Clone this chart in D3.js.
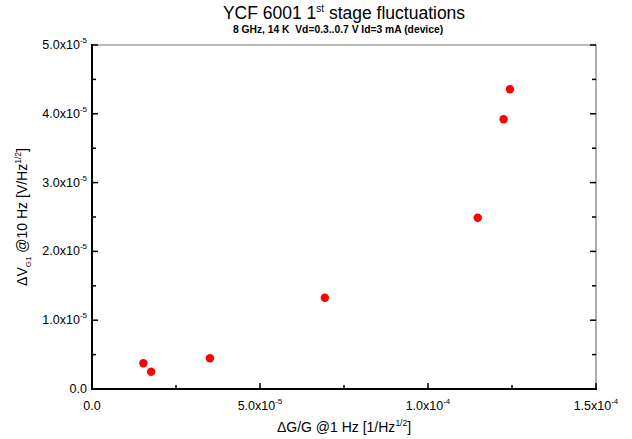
<!DOCTYPE html>
<html>
<head>
<meta charset="utf-8">
<script src="https://cdn.jsdelivr.net/npm/d3@7"></script>
<style>
  body { margin: 0; background: #fff; }
  text { font-family: "Liberation Sans", Arial, sans-serif; fill: #000; }
</style>
</head>
<body>
<div id="chart"></div>
<script>
// data
var dGG = [1.53e-5, 1.76e-5, 3.51e-5, 6.93e-5, 1.148e-4, 1.225e-4, 1.244e-4];
var dVG1 = [3.74e-6, 2.51e-6, 4.46e-6, 1.327e-5, 2.49e-5, 3.92e-5, 4.356e-5];
var xTicks = [0, 5e-5, 1e-4, 1.5e-4];
var xTickLabels = ["0.0", "5.0x10|-5", "1.0x10|-4", "1.5x10|-4"];
var yTicks = [0, 1e-5, 2e-5, 3e-5, 4e-5, 5e-5];
var yTickLabels = ["0.0", "1.0x10|-5", "2.0x10|-5", "3.0x10|-5", "4.0x10|-5", "5.0x10|-5"];

var width = 632, height = 439;
var margin = { left: 92, right: 36, top: 45, bottom: 50 };

var svg = d3.select("#chart").append("svg")
  .attr("width", width)
  .attr("height", height);

var x = d3.scaleLinear().domain([0, 1.5e-4]).range([margin.left, width - margin.right]);
var y = d3.scaleLinear().domain([0, 5e-5]).range([height - margin.bottom, margin.top]);

// label with optional superscript "base|exp"
function sciLabel(sel, s) {
  var parts = s.split("|");
  sel.text(parts[0]);
  if (parts.length > 1) {
    sel.append("tspan").attr("dy", -6).attr("font-size", "8px").text(parts[1]);
  }
}

// frame
var x0 = x(0), x1 = x(1.5e-4), y0 = y(0), y1 = y(5e-5);
svg.append("line").attr("x1", x0).attr("x2", x1).attr("y1", y1).attr("y2", y1)
  .attr("stroke", "#777").attr("stroke-width", 1.2);
svg.append("line").attr("x1", x1).attr("x2", x1).attr("y1", y1).attr("y2", y0)
  .attr("stroke", "#777").attr("stroke-width", 1.2);
svg.append("line").attr("x1", x0 - 1).attr("x2", x1 + 1).attr("y1", y0).attr("y2", y0)
  .attr("stroke", "#000").attr("stroke-width", 2);
svg.append("line").attr("x1", x0).attr("x2", x0).attr("y1", y1 - 1).attr("y2", y0 + 1)
  .attr("stroke", "#000").attr("stroke-width", 2);

// ticks (inward, major + minor); none on the top edge
var xMinor = d3.range(0, 1.5e-4 + 1e-9, 2.5e-5);
var yMinor = d3.range(0, 5e-5 + 1e-9, 5e-6);

var tickG = svg.append("g").attr("stroke", "#000").attr("stroke-width", 1.5);
xMinor.forEach(function(v) {
  var major = xTicks.some(function(t) { return Math.abs(t - v) < 1e-9; });
  var len = major ? 6 : 4;
  tickG.append("line").attr("x1", x(v)).attr("x2", x(v)).attr("y1", y0).attr("y2", y0 - len);
});
yMinor.forEach(function(v) {
  var major = yTicks.some(function(t) { return Math.abs(t - v) < 1e-9; });
  var len = major ? 6 : 4;
  tickG.append("line").attr("x1", x0).attr("x2", x0 + len).attr("y1", y(v)).attr("y2", y(v));
  tickG.append("line").attr("x1", x1).attr("x2", x1 - len).attr("y1", y(v)).attr("y2", y(v));
});

// tick labels
svg.selectAll(".xl").data(xTicks).enter().append("text")
  .attr("class", "xl")
  .attr("x", function(d) { return x(d); })
  .attr("y", y0 + 21)
  .attr("text-anchor", "middle")
  .attr("font-size", "12.5px")
  .each(function(d, i) { sciLabel(d3.select(this), xTickLabels[i]); });

svg.selectAll(".yl").data(yTicks).enter().append("text")
  .attr("class", "yl")
  .attr("x", x0 - 5)
  .attr("y", function(d) { return y(d) + 4; })
  .attr("text-anchor", "end")
  .attr("font-size", "12.5px")
  .each(function(d, i) { sciLabel(d3.select(this), yTickLabels[i]); });

// points
svg.selectAll("circle").data(dGG).enter().append("circle")
  .attr("cx", function(d) { return x(d); })
  .attr("cy", function(d, i) { return y(dVG1[i]); })
  .attr("r", 4.2)
  .attr("fill", "#ff0000");

// title
var title = svg.append("text")
  .attr("x", 344).attr("y", 19)
  .attr("text-anchor", "middle")
  .attr("font-size", "17.5px");
title.append("tspan").text("YCF 6001 1");
title.append("tspan").attr("dy", -7).attr("font-size", "10px").text("st");
title.append("tspan").attr("dy", 7).text(" stage fluctuations");

svg.append("text")
  .attr("x", 338).attr("y", 33)
  .attr("text-anchor", "middle")
  .attr("font-size", "10.3px")
  .attr("font-weight", "bold")
  .attr("xml:space", "preserve")
  .text("8 GHz, 14 K  Vd=0.3..0.7 V Id=3 mA (device)");

// x axis title
var xt = svg.append("text")
  .attr("x", 344).attr("y", 432)
  .attr("text-anchor", "middle")
  .attr("font-size", "14px");
xt.append("tspan").text("\u0394G/G @1 Hz [1/Hz");
xt.append("tspan").attr("dy", -6).attr("font-size", "8.5px").text("1/2");
xt.append("tspan").attr("dy", 6).text("]");

// y axis title
var yt = svg.append("text")
  .attr("transform", "translate(27," + ((y0 + y1) / 2) + ") rotate(-90)")
  .attr("text-anchor", "middle")
  .attr("font-size", "14px");
yt.append("tspan").text("\u0394V");
yt.append("tspan").attr("dy", 4).attr("font-size", "8px").text("G1");
yt.append("tspan").attr("dy", -4).text(" @10 Hz [V/Hz");
yt.append("tspan").attr("dy", -6).attr("font-size", "8.5px").text("1/2");
yt.append("tspan").attr("dy", 6).text("]");
</script>
</body>
</html>
